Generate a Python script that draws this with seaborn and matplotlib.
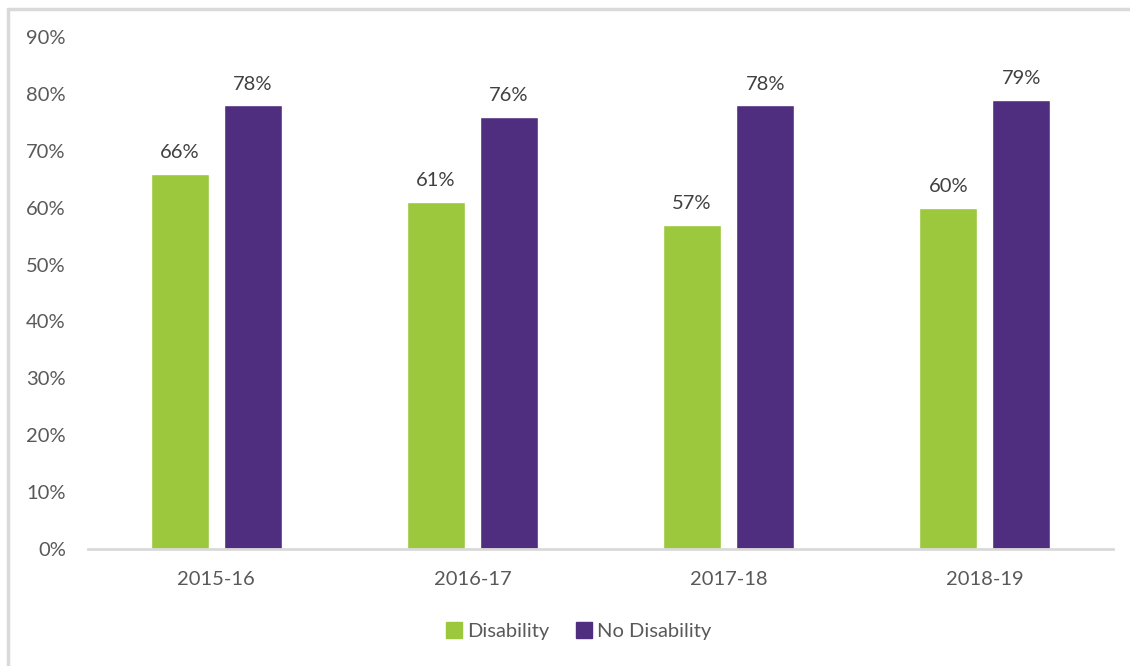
import matplotlib
matplotlib.use("Agg")
import matplotlib.pyplot as plt
from matplotlib.lines import Line2D
import seaborn as sns
import pandas as pd

years = ["2015-16", "2016-17", "2017-18", "2018-19"]
disability = [66, 61, 57, 60]
no_disability = [78, 76, 78, 79]
groups = ["Disability", "No Disability"]
colors = ["#9BC83C", "#4F2D7F"]
yticks = [0, 10, 20, 30, 40, 50, 60, 70, 80, 90]

df = pd.DataFrame({
    "Year": years * 2,
    "Group": [groups[0]] * len(years) + [groups[1]] * len(years),
    "Value": disability + no_disability,
})

sns.set_theme(style="white")
plt.rcParams["font.family"] = ["Lato", "DejaVu Sans"]
text_color = "#595959"
fs = 14.5

W, H = 1130, 666
fig = plt.figure(figsize=(W / 100, H / 100), dpi=100)
ax = fig.add_axes([88 / W, (H - 549) / H, (1113 - 88) / W, (549 - 37) / H])

sns.barplot(data=df, x="Year", y="Value", hue="Group", hue_order=groups,
            palette=colors, width=0.57, gap=0.205, saturation=1,
            errorbar=None, ax=ax, legend=False)

ax.set_xlim(-0.5, len(years) - 0.5)
ax.set_ylim(0, 90)
ax.set_yticks(yticks)
ax.set_yticklabels([f"{t}%" for t in yticks])
ax.set_xlabel("")
ax.set_ylabel("")
ax.tick_params(axis="both", length=0, labelsize=fs, colors=text_color)
ax.tick_params(axis="y", pad=16)
ax.tick_params(axis="x", pad=16)

for side in ["top", "right", "left"]:
    ax.spines[side].set_visible(False)
ax.spines["bottom"].set_color("#D9D9D9")
ax.spines["bottom"].set_linewidth(2)

for container in ax.containers:
    ax.bar_label(container, labels=[f"{v:.0f}%" for v in container.datavalues],
                 padding=9, fontsize=fs, color="#404040")

handles = [Line2D([0], [0], marker="s", linestyle="", markersize=11,
                  markerfacecolor=c, markeredgecolor=c) for c in colors]
fig.legend(handles, groups, loc="center", bbox_to_anchor=(578 / W, (H - 631) / H),
           ncol=2, frameon=False, fontsize=fs, labelcolor=text_color,
           handletextpad=0.2, columnspacing=1.3, handlelength=0.9)

# light frame around the chart area
fig.add_artist(Line2D([7.5 / W, 7.5 / W], [0, (H - 9) / H], color="#D9D9D9", lw=2.5))
fig.add_artist(Line2D([7.5 / W, 1], [(H - 9) / H, (H - 9) / H], color="#D9D9D9", lw=2.5))

fig.savefig("out.png", dpi=100)
